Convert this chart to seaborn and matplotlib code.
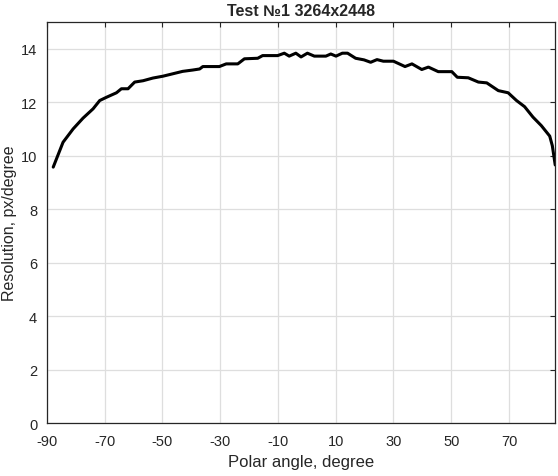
##Angular resolution test chart
import pandas as pd
import matplotlib
matplotlib.use('Agg')
import matplotlib.pyplot as plt
import seaborn as sns

#Values
polar_angle = [-87.8, -84.4, -80.9, -77.5, -74.0, -71.7, -69.4, -65.9, -64.2, -61.9,
               -59.6, -56.7, -53.3, -49.8, -46.4, -43.0, -39.5, -37.1, -36.0, -30.3,
               -27.9, -23.9, -21.6, -17.0, -15.3, -10.1, -7.8, -6.1, -3.8, -2.0,
               0.2, 2.6, 6.6, 8.3, 10.1, 12.3, 14.1, 16.9, 19.8, 22.1,
               24.3, 26.5, 30.0, 34.0, 36.4, 39.8, 42.1, 45.5, 50.2, 52.1,
               55.9, 59.4, 62.3, 66.3, 69.7, 72.6, 75.4, 78.3, 81.2, 84.1,
               85.0, 86.0]
resolution = [9.57, 10.5, 11.0, 11.4, 11.75, 12.06, 12.18, 12.35, 12.5, 12.5,
              12.75, 12.8, 12.9, 12.97, 13.06, 13.15, 13.2, 13.24, 13.33, 13.33,
              13.43, 13.43, 13.62, 13.64, 13.74, 13.74, 13.83, 13.72, 13.83, 13.69,
              13.83, 13.72, 13.72, 13.8, 13.72, 13.83, 13.83, 13.64, 13.58, 13.49,
              13.59, 13.53, 13.53, 13.33, 13.43, 13.22, 13.31, 13.14, 13.14, 12.93,
              12.91, 12.75, 12.72, 12.43, 12.35, 12.06, 11.83, 11.44, 11.12, 10.73,
              10.37, 9.65]
x_ticks = [-90, -70, -50, -30, -10, 10, 30, 50, 70]
y_ticks = [0, 2, 4, 6, 8, 10, 12, 14]

df = pd.DataFrame({'angle': polar_angle, 'res': resolution})

sns.set_style('whitegrid')
plt.rcParams['font.family'] = ['Liberation Sans', 'DejaVu Sans']
plt.rcParams['axes.unicode_minus'] = False

fig = plt.figure(figsize=(5.58, 4.77), dpi=100)
ax = fig.add_axes([0.084, 0.111, 0.911, 0.841])
sns.lineplot(data=df, x='angle', y='res', color='black', linewidth=2.2, ax=ax)

ax.set_xlim(-90, 86)
ax.set_ylim(0, 15)
ax.set_xticks(x_ticks)
ax.set_yticks(y_ticks)
ax.grid(True, color='#dedede', linewidth=0.9)
for s in ax.spines.values():
    s.set_visible(True)
    s.set_color('#262626')
    s.set_linewidth(0.9)
ax.tick_params(direction='in', length=3.5, width=0.8, color='#262626',
               top=True, right=True, labelsize=10.5, labelcolor='#262626')
ax.tick_params(axis='x', pad=8)
ax.tick_params(axis='y', pad=7)
ax.set_xlabel('Polar angle, degree', fontsize=12, color='#262626', labelpad=4)
ax.set_ylabel('Resolution, px/degree', fontsize=11.5, color='#262626')
ax.yaxis.set_label_coords(-0.058, 0.5)
ax.set_title('Test №1 3264x2448', fontsize=11.5, fontweight='bold', pad=5)

fig.savefig('out.png', dpi=100)
